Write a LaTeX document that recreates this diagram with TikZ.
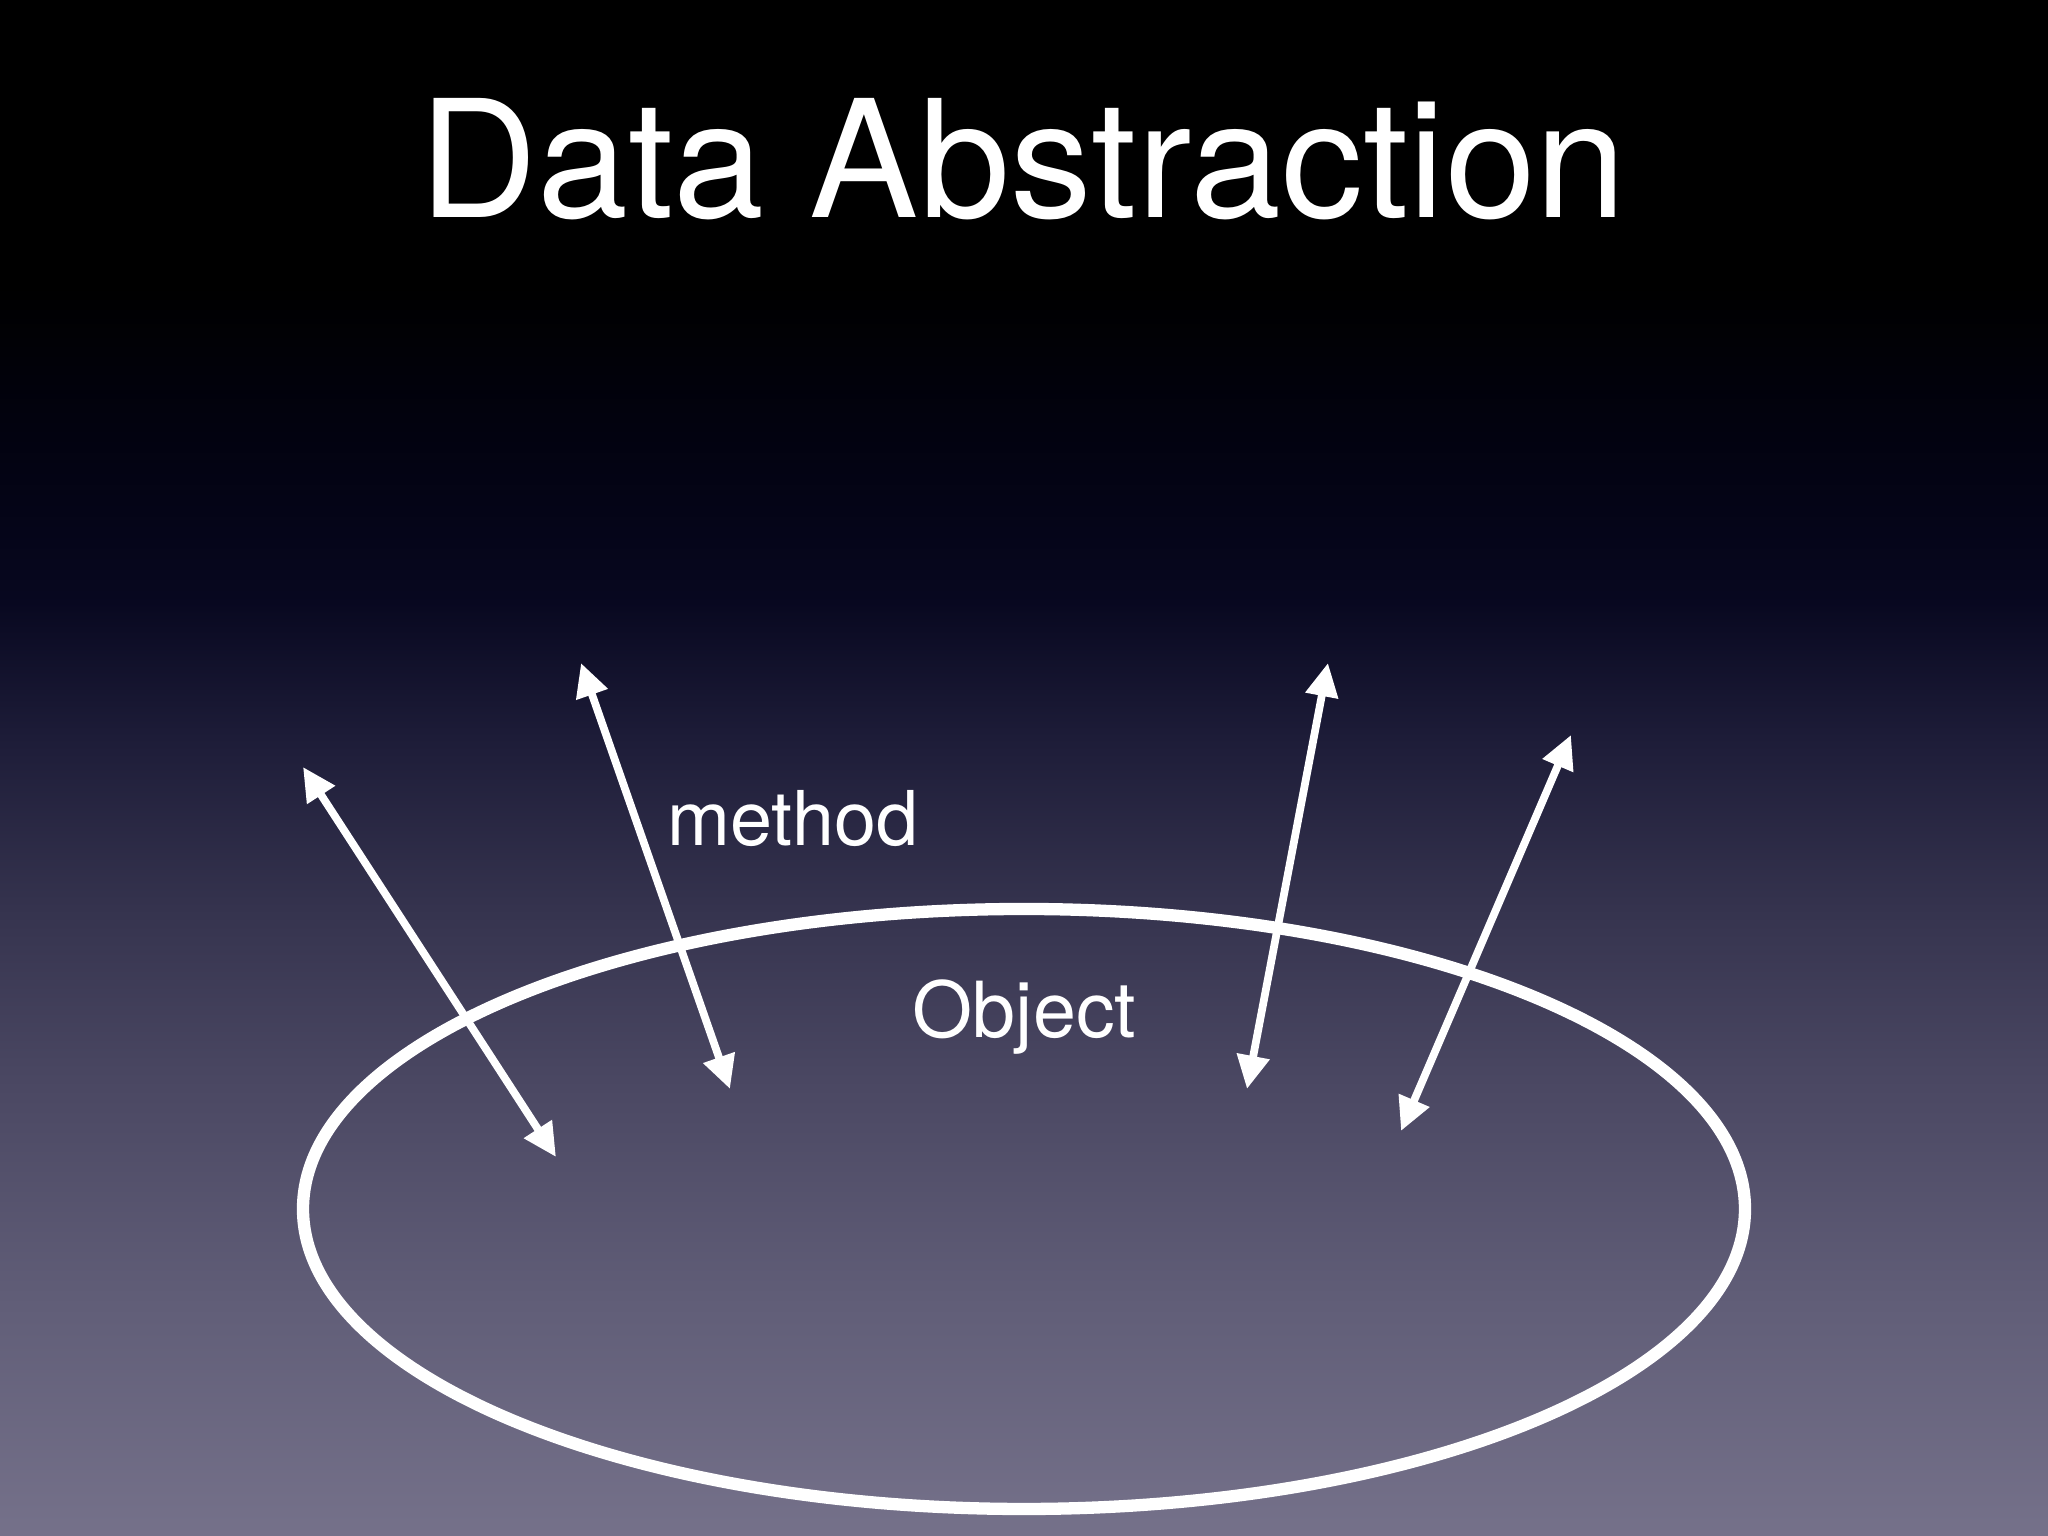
\documentclass[tikz,border=0pt]{standalone}
\usepackage{fontspec}
\setmainfont{TeX Gyre Heros}
\usepackage{tikz}
\usetikzlibrary{arrows.meta}

\definecolor{bgA}{HTML}{75718A}
\definecolor{bgB}{HTML}{615E78}
\definecolor{bgC}{HTML}{4B4863}
\definecolor{bgD}{HTML}{36344F}
\definecolor{bgE}{HTML}{1D1C38}
\definecolor{bgF}{HTML}{07071F}
\definecolor{bgG}{HTML}{020210}
\pgfdeclareverticalshading{slidebg}{100bp}{color(0bp)=(bgA); color(25bp)=(bgA);
  color(32.5bp)=(bgB); color(39.6bp)=(bgC); color(45.2bp)=(bgD); color(51bp)=(bgE);
  color(55.6bp)=(bgF); color(60.8bp)=(bgG); color(65.7bp)=(black); color(100bp)=(black)}

\begin{document}
\begin{tikzpicture}[>={Triangle[length=9.5pt,width=9pt]},
  label/.style={text=white,inner sep=0pt},
  method arrow/.style={<->,white,line width=2.2pt}]
  \shade[shading=slidebg] (0,0) rectangle (20.48,15.36);
  \node[label,anchor=base,font=\fontsize{46.5}{50}\selectfont] (title) at (10.23,13.18) {Data Abstraction};
  % the object
  \draw[white,line width=3.5pt] (10.24,3.27) ellipse (7.21 and 3.0);
  \node[label,anchor=base west,font=\fontsize{22}{26}\selectfont] (object) at (9.12,4.98) {Object};
  \node[label,anchor=base west,font=\fontsize{21.5}{26}\selectfont] (method) at (6.67,6.90) {method};
  % methods crossing the boundary
  \coordinate (t1) at (3.03,7.69);  \coordinate (b1) at (5.56,3.79);
  \coordinate (t2) at (5.81,8.73);  \coordinate (b2) at (7.30,4.47);
  \coordinate (t3) at (13.28,8.73); \coordinate (b3) at (12.47,4.47);
  \coordinate (t4) at (15.71,8.01); \coordinate (b4) at (14.01,4.05);
  \foreach \i in {1,...,4}
    \draw[method arrow] (t\i) -- (b\i);
\end{tikzpicture}
\end{document}
